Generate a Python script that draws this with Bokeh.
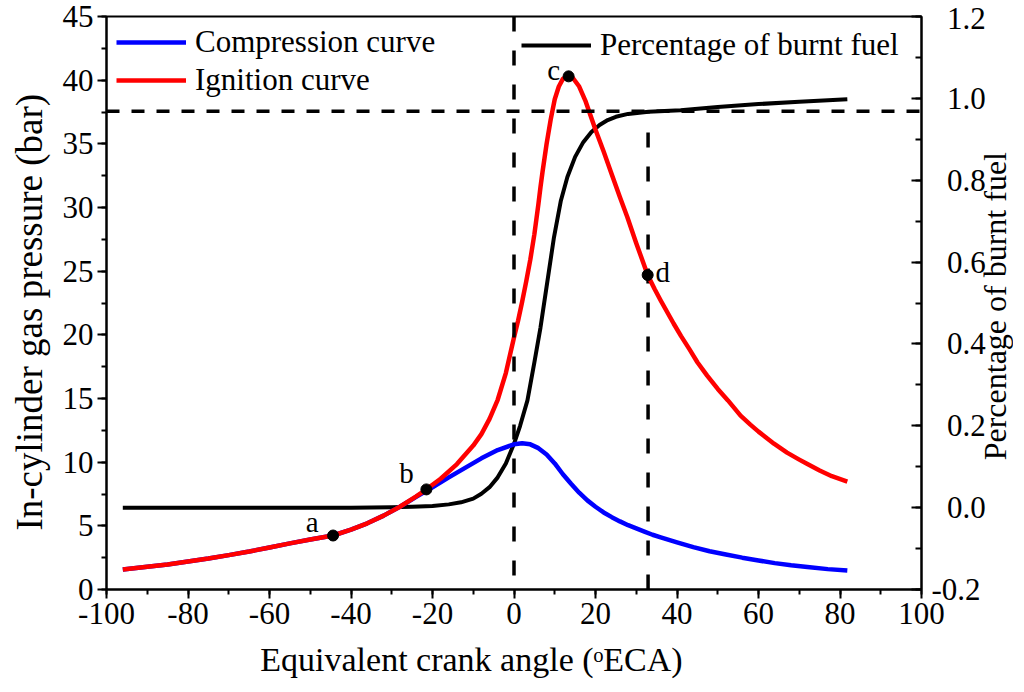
from bokeh.plotting import figure
from bokeh.layouts import row
from bokeh.models import (Range1d, LinearAxis, Span, Legend, LegendItem, ColumnDataSource,
                          FixedTicker, CustomJSTickFormatter, Div)
from bokeh.core.properties import value
from bokeh.embed import file_html
from bokeh.resources import INLINE

# ---- data ----
ign_x = [-96, -90, -85, -80, -75, -70, -65, -60, -55, -50, -44.4, -40, -36, -32, -28, -24, -21.5, -18,
         -14, -10, -8, -6, -4, -2, 0, 1, 2, 3, 4, 5, 6, 6.5, 7, 8, 9, 10, 11, 12, 13.4, 14.5, 16,
         17.5, 18.8, 20, 22, 24, 26, 27.8, 30, 32.8, 34.5, 36, 39.2, 41, 43, 45, 47.4, 50, 52.5,
         55.6, 58, 60, 63.8, 67, 70, 72, 75, 78, 81.8]
ign_p = [1.57, 1.78, 1.97, 2.2, 2.43, 2.7, 2.98, 3.3, 3.62, 3.93, 4.24, 4.7, 5.2, 5.8, 6.5, 7.32, 7.86, 8.7,
         9.85, 11.3, 12.2, 13.4, 14.9, 17.0, 19.8, 21.1, 22.6, 24.2, 25.9, 27.9, 30.3, 31.6, 32.8, 35.0, 36.9,
         38.5, 39.5, 40.1, 40.3, 40.15, 39.5, 38.4, 37.2, 36.1, 34.4, 32.6, 30.8, 29.25, 27.2, 24.7, 23.6, 22.7,
         20.87, 19.9, 18.9, 17.85, 16.8, 15.75, 14.85, 13.65, 12.95, 12.4, 11.45, 10.75, 10.2, 9.85, 9.35,
         8.9, 8.48]

comp_x = [-96, -90, -85, -80, -75, -70, -65, -60, -55, -50, -44.4, -40, -36, -32, -28, -24, -20, -16,
          -12, -8, -4, 0, 2, 4, 6, 8, 10, 12, 14, 16, 18, 20, 22, 24, 26, 28, 30, 32, 34, 36, 38,
          40, 44, 48, 52, 56, 60, 64, 68, 72, 77, 81.8]
comp_p = [1.57, 1.78, 1.97, 2.2, 2.43, 2.7, 2.98, 3.3, 3.62, 3.93, 4.24, 4.7, 5.2, 5.8, 6.5, 7.28, 8.02, 8.8,
          9.55, 10.3, 10.95, 11.4, 11.48, 11.4, 11.1, 10.6, 9.9, 9.05, 8.3, 7.6, 7.0, 6.5, 6.05, 5.68, 5.35,
          5.05, 4.8, 4.55, 4.3, 4.1, 3.9, 3.7, 3.33, 3.0, 2.75, 2.5, 2.28, 2.07, 1.9, 1.76, 1.6, 1.49]

fuel_x = [-96, -60, -40, -30, -25, -20, -16, -13, -10, -8, -6, -4, -2, 0, 1.5, 3.3, 5, 6.5, 8, 9.8,
          11.5, 13.1, 15, 17, 19, 21, 23, 25, 28, 33, 40.9, 50, 60, 70, 81.8]
fuel_f = [0.0, 0.0, 0.0, 0.001, 0.002, 0.004, 0.008, 0.013, 0.022, 0.034, 0.05, 0.074, 0.108, 0.156, 0.2,
          0.262, 0.355, 0.44, 0.54, 0.66, 0.75, 0.808, 0.857, 0.893, 0.918, 0.935, 0.947, 0.955, 0.962,
          0.967, 0.971, 0.979, 0.986, 0.992, 0.998]

pt_names = ["a", "b", "c", "d"]
pt_x = [-44.4, -21.5, 13.4, 32.8]
pt_p = [4.24, 7.86, 40.3, 24.7]

ref_angle = [0, 32.9]
ref_pressure = 37.55

x_ticks = list(range(-100, 101, 20))
x_minor = list(range(-100, 101, 10))
y_ticks = list(range(0, 46, 5))
y_minor = [i * 2.5 for i in range(0, 19)]
r_ticks = [-0.2, 0.0, 0.2, 0.4, 0.6, 0.8, 1.0, 1.2]
r_minor = [round(-0.2 + 0.1 * i, 2) for i in range(0, 15)]

FONT = "Liberation Serif"

p = figure(frame_width=815, frame_height=573, x_range=Range1d(-100, 100), y_range=Range1d(0, 45),
           output_backend="svg", toolbar_location=None,
           min_border_left=106, min_border_right=69, min_border_top=16, min_border_bottom=95)
p.extra_y_ranges = {"pct": Range1d(-0.2, 1.2)}
p.grid.visible = False
p.outline_line_color = "black"
p.outline_line_width = 2
p.background_fill_color = "white"
p.border_fill_color = "white"

def style_axis(ax, ticks, minor, inward=False):
    ax.ticker = FixedTicker(ticks=ticks, minor_ticks=minor)
    ax.axis_line_color = "black"
    ax.axis_line_width = 2
    ax.major_tick_line_width = 2
    ax.minor_tick_line_width = 2
    if inward:
        ax.major_tick_in = 10
        ax.major_tick_out = 0
        ax.minor_tick_in = 6
        ax.minor_tick_out = 0
    else:
        ax.major_tick_in = 0
        ax.major_tick_out = 9
        ax.minor_tick_in = 0
        ax.minor_tick_out = 5
    ax.major_label_text_font = FONT
    ax.major_label_text_font_size = "31px"
    ax.major_label_text_color = "black"
    ax.axis_label_text_font = FONT
    ax.axis_label_text_font_style = "normal"
    ax.axis_label_text_color = "black"

style_axis(p.xaxis[0], x_ticks, x_minor)
p.xaxis[0].formatter = CustomJSTickFormatter(code="return tick.toFixed(0);")
p.xaxis[0].axis_label = "Equivalent crank angle (\u1d52ECA)\u2003\u2003\u2002"
p.xaxis[0].axis_label_text_font_size = "34px"
p.xaxis[0].major_label_standoff = 4
p.xaxis[0].axis_label_standoff = 14

style_axis(p.yaxis[0], y_ticks, y_minor)
p.yaxis[0].formatter = CustomJSTickFormatter(code="return tick.toFixed(0);")
p.yaxis[0].axis_label = "In-cylinder gas pressure (bar)\u2002"
p.yaxis[0].axis_label_text_font_size = "37px"
p.yaxis[0].major_label_standoff = 4
p.yaxis[0].axis_label_standoff = 10

right = LinearAxis(y_range_name="pct")
style_axis(right, r_ticks, r_minor, inward=True)
right.formatter = CustomJSTickFormatter(
    code="const s = tick.toFixed(1); return tick < -1e-9 ? s : '\u2007' + s;")
right.major_label_standoff = 10
p.add_layout(right, "right")

# reference dashed lines
p.add_layout(Span(location=ref_pressure, dimension="width", line_color="black",
                  line_width=3.5, line_dash="13 12"))
p.add_layout(Span(location=ref_angle[0], dimension="height", line_color="black",
                  line_width=3.5, line_dash="15 19"))
p.segment(x0=[ref_angle[1]], y0=[0], x1=[ref_angle[1]], y1=[ref_pressure],
          line_color="black", line_width=3.5, line_dash="15 19")

r_fuel = p.line(fuel_x, fuel_f, y_range_name="pct", line_color="black", line_width=4, line_join="round")
r_comp = p.line(comp_x, comp_p, line_color="#0000ff", line_width=4.5, line_join="round")
r_ign = p.line(ign_x, ign_p, line_color="#ff0000", line_width=4.5, line_join="round")

src = ColumnDataSource(dict(x=pt_x, y=pt_p, t=pt_names))
p.scatter("x", "y", source=src, size=11, color="black")
dx = [-21, -20, -15, 15]
dy = [14, 16, 6, 3]
for name, xx, yy, ox, oy in zip(pt_names, pt_x, pt_p, dx, dy):
    p.text(x=[xx], y=[yy], text=[name], x_offset=ox, y_offset=-oy, text_font=value(FONT),
           text_font_size="29px", text_align="center", text_baseline="middle", text_color="black")

leg1 = Legend(items=[LegendItem(label="Compression curve", renderers=[r_comp]),
                     LegendItem(label="Ignition curve", renderers=[r_ign])],
              location=(10, 490))
leg2 = Legend(items=[LegendItem(label="Percentage of burnt fuel", renderers=[r_fuel])],
              location=(415, 525))
for lg in (leg1, leg2):
    lg.border_line_color = None
    lg.background_fill_alpha = 0
    lg.padding = 0
    lg.margin = 0
    lg.spacing = 0
    lg.glyph_width = 70
    lg.glyph_height = 38
    lg.label_height = 38
    lg.label_standoff = 9
    lg.label_text_font = FONT
    lg.label_text_font_size = "31px"
    lg.label_text_color = "black"
    p.add_layout(lg, "center")

# right axis title, reading bottom to top
right_title = Div(
    text=('<div style="margin-top:147px; margin-left:-10px; writing-mode:vertical-rl; '
          'transform:rotate(180deg); font-family:&quot;Liberation Serif&quot;, &quot;Times New Roman&quot;, serif; '
          'font-size:32px; line-height:20px; white-space:nowrap; color:black;">'
          'Percentage of burnt fuel</div>'),
    width=20, height=676,
    styles={"font-family": "'Liberation Serif', 'Times New Roman', serif", "font-size": "32px"})

layout = row(p, right_title)
open("out.html", "w").write(file_html(layout, INLINE))
